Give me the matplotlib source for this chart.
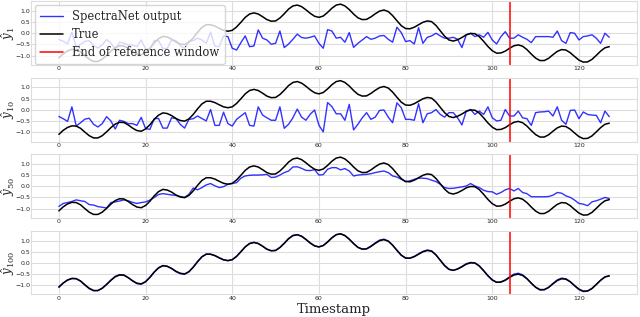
import matplotlib
matplotlib.use('Agg')
import matplotlib.pyplot as plt
import seaborn as sns
import numpy as np

sns.set_style('whitegrid')
plt.rcParams['font.family'] = ['DejaVu Serif']
plt.rcParams['mathtext.fontset'] = 'dejavuserif'

timestamps = np.arange(128)
ref_end = 104

true_vals = [
    -1.10, -0.92, -0.79, -0.72, -0.73, -0.83, -1.00, -1.16, -1.26, -1.26,
    -1.16, -0.99, -0.80, -0.64, -0.56, -0.57, -0.68, -0.82, -0.93, -0.96,
    -0.86, -0.67, -0.43, -0.24, -0.14, -0.17, -0.26, -0.39, -0.48, -0.51,
    -0.41, -0.21, 0.04, 0.26, 0.38, 0.38, 0.32, 0.22, 0.13, 0.09,
    0.13, 0.28, 0.49, 0.71, 0.86, 0.91, 0.86, 0.74, 0.61, 0.54,
    0.55, 0.68, 0.87, 1.08, 1.22, 1.26, 1.19, 1.05, 0.89, 0.76,
    0.71, 0.77, 0.93, 1.12, 1.26, 1.30, 1.22, 1.06, 0.86, 0.69,
    0.61, 0.62, 0.73, 0.87, 0.99, 1.04, 0.97, 0.79, 0.56, 0.34,
    0.21, 0.20, 0.27, 0.38, 0.49, 0.55, 0.52, 0.35, 0.11, -0.13,
    -0.30, -0.35, -0.29, -0.19, -0.07, -0.01, -0.02, -0.15, -0.36, -0.59,
    -0.78, -0.89, -0.88, -0.80, -0.67, -0.56, -0.52, -0.58, -0.73, -0.93,
    -1.11, -1.22, -1.22, -1.12, -0.96, -0.81, -0.73, -0.75, -0.87, -1.04,
    -1.20, -1.29, -1.28, -1.17, -0.99, -0.80, -0.65, -0.60,
]

pred_y1 = [
    -0.28, -0.36, -0.48, 0.05, -0.62, -0.50, -0.36, -0.33, -0.55, -0.66,
    -0.52, -0.28, -0.44, -0.72, -0.40, -0.45, -0.52, -0.53, -0.60, -0.30,
    -0.70, -0.73, -0.33, -0.33, -0.68, -0.68, -0.30, -0.33, -0.55, -0.68,
    -0.36, -0.33, -0.22, -0.30, -0.45, 0.05, -0.58, -0.60, -0.12, -0.15,
    -0.67, -0.75, -0.42, -0.12, -0.60, -0.57, 0.15, -0.22, -0.30, -0.49,
    -0.45, 0.10, -0.64, -0.48, -0.27, -0.04, -0.19, -0.22, -0.18, -0.12,
    -0.45, -0.67, 0.16, 0.10, -0.22, -0.18, -0.40, 0.03, -0.63, -0.45,
    -0.30, -0.15, -0.27, -0.22, -0.12, -0.10, -0.27, -0.40, 0.27, 0.03,
    -0.37, -0.33, -0.48, 0.25, -0.45, -0.18, -0.12, 0.00, -0.12, -0.22,
    -0.22, -0.18, -0.27, -0.64, -0.07, 0.00, -0.15, -0.07, -0.18, 0.04,
    -0.30, -0.48, -0.15, 0.07, -0.22, -0.22, -0.07, -0.18, -0.27, -0.42,
    -0.15, -0.15, -0.15, -0.15, -0.18, 0.10, -0.33, -0.45, 0.03, 0.00,
    -0.30, -0.15, -0.12, -0.07, -0.22, -0.45, 0.00, -0.18,
]

pred_y10 = [
    -0.30, -0.40, -0.52, 0.13, -0.73, -0.58, -0.42, -0.38, -0.65, -0.77,
    -0.62, -0.31, -0.50, -0.86, -0.47, -0.52, -0.62, -0.62, -0.70, -0.34,
    -0.84, -0.88, -0.40, -0.39, -0.82, -0.82, -0.36, -0.39, -0.65, -0.82,
    -0.43, -0.40, -0.28, -0.39, -0.50, 0.01, -0.70, -0.70, -0.11, -0.62,
    -0.73, -0.43, -0.28, -0.13, -0.70, -0.73, 0.13, -0.24, -0.36, -0.47,
    -0.47, 0.13, -0.83, -0.65, -0.36, 0.03, -0.33, -0.47, -0.20, -0.01,
    -0.69, -0.99, 0.32, 0.14, -0.18, -0.18, -0.47, 0.24, -0.90, -0.65,
    -0.36, -0.13, -0.43, -0.33, -0.03, -0.01, -0.33, -0.58, 0.31, 0.09,
    -0.43, -0.43, -0.47, 0.27, -0.58, -0.18, -0.13, 0.01, -0.21, -0.33,
    -0.13, -0.13, -0.36, -0.68, -0.06, 0.01, -0.21, -0.06, -0.21, 0.13,
    -0.36, -0.50, -0.47, 0.01, -0.28, -0.28, -0.06, -0.36, -0.40, -0.70,
    -0.13, -0.10, -0.09, -0.06, -0.28, 0.13, -0.47, -0.65, -0.03, -0.01,
    -0.40, -0.10, -0.21, -0.24, -0.25, -0.58, -0.06, -0.31,
]

pred_y50 = [
    -0.90, -0.77, -0.73, -0.68, -0.61, -0.65, -0.68, -0.82, -0.84, -0.91,
    -0.94, -0.97, -0.73, -0.70, -0.66, -0.61, -0.65, -0.72, -0.77, -0.73,
    -0.70, -0.62, -0.50, -0.37, -0.33, -0.36, -0.39, -0.41, -0.46, -0.50,
    -0.36, -0.08, -0.16, -0.06, 0.06, 0.12, 0.02, -0.06, -0.02, 0.09,
    0.12, 0.16, 0.36, 0.46, 0.49, 0.50, 0.50, 0.51, 0.53, 0.39,
    0.41, 0.50, 0.61, 0.68, 0.86, 0.87, 0.80, 0.71, 0.70, 0.74,
    0.50, 0.52, 0.76, 0.83, 0.83, 0.73, 0.79, 0.68, 0.46, 0.50,
    0.52, 0.53, 0.56, 0.61, 0.65, 0.68, 0.61, 0.46, 0.41, 0.31,
    0.21, 0.24, 0.31, 0.36, 0.36, 0.34, 0.27, 0.21, 0.09, -0.06,
    -0.10, -0.09, -0.06, -0.03, 0.01, 0.12, 0.01, -0.06, -0.18, -0.24,
    -0.25, -0.36, -0.28, -0.16, -0.10, -0.21, -0.10, -0.28, -0.33, -0.47,
    -0.47, -0.47, -0.47, -0.46, -0.40, -0.28, -0.31, -0.43, -0.50, -0.62,
    -0.77, -0.80, -0.87, -0.70, -0.65, -0.58, -0.50, -0.55,
]

pred_y100 = [
    -1.12, -0.93, -0.78, -0.71, -0.72, -0.84, -1.02, -1.18, -1.27, -1.27,
    -1.16, -0.98, -0.79, -0.62, -0.54, -0.56, -0.68, -0.83, -0.95, -0.98,
    -0.87, -0.66, -0.42, -0.23, -0.13, -0.16, -0.27, -0.41, -0.50, -0.53,
    -0.42, -0.20, 0.05, 0.27, 0.39, 0.38, 0.31, 0.21, 0.12, 0.09,
    0.14, 0.29, 0.50, 0.72, 0.87, 0.92, 0.87, 0.75, 0.60, 0.53,
    0.55, 0.69, 0.88, 1.09, 1.23, 1.27, 1.20, 1.05, 0.88, 0.75,
    0.71, 0.78, 0.94, 1.13, 1.27, 1.31, 1.23, 1.06, 0.86, 0.69,
    0.61, 0.63, 0.75, 0.89, 1.02, 1.06, 0.98, 0.79, 0.55, 0.33,
    0.20, 0.20, 0.28, 0.40, 0.51, 0.57, 0.53, 0.35, 0.10, -0.14,
    -0.31, -0.35, -0.28, -0.17, -0.05, 0.01, -0.01, -0.15, -0.37, -0.60,
    -0.79, -0.89, -0.87, -0.78, -0.64, -0.52, -0.48, -0.55, -0.72, -0.93,
    -1.12, -1.24, -1.23, -1.12, -0.94, -0.78, -0.70, -0.73, -0.86, -1.05,
    -1.22, -1.31, -1.29, -1.17, -0.98, -0.79, -0.64, -0.60,
]

predictions = [pred_y1, pred_y10, pred_y50, pred_y100]
labels = [r'$\hat{y}_{1}$', r'$\hat{y}_{10}$', r'$\hat{y}_{50}$', r'$\hat{y}_{100}$']

fig, axes = plt.subplots(4, 1, figsize=(6.4, 3.17), dpi=100)
fig.subplots_adjust(left=0.049, right=0.995, bottom=0.071, top=0.996, hspace=0.2)

for ax, pred, lab in zip(axes, predictions, labels):
    ax.plot(timestamps, pred, color='blue', alpha=0.8, lw=1.0, label='SpectraNet output')
    ax.plot(timestamps, true_vals, color='black', lw=1.1, label='True')
    ax.axvline(ref_end, color='red', lw=1.1, label='End of reference window')
    ax.set_ylabel(lab, fontsize=8.5)
    ax.yaxis.set_label_coords(-0.0245, 0.5)
    ax.set_yticks([-1.0, -0.5, 0.0, 0.5, 1.0])
    ax.set_xticks([0, 20, 40, 60, 80, 100, 120])
    ax.tick_params(labelsize=4.5, pad=0.8, length=0)
    for t in ax.get_xticklabels() + ax.get_yticklabels():
        t.set_fontfamily('DejaVu Sans')
    ax.grid(color='#dddddd', lw=0.8)
    for s in ax.spines.values():
        s.set_color('#dddddd')

axes[0].legend(loc='upper left', fontsize=8.3, handlelength=2.0,
               borderpad=0.45, labelspacing=0.45, borderaxespad=0.3)
axes[-1].set_xlabel('Timestamp', fontsize=9.5, labelpad=1.5)

fig.savefig('out.png', dpi=100)
